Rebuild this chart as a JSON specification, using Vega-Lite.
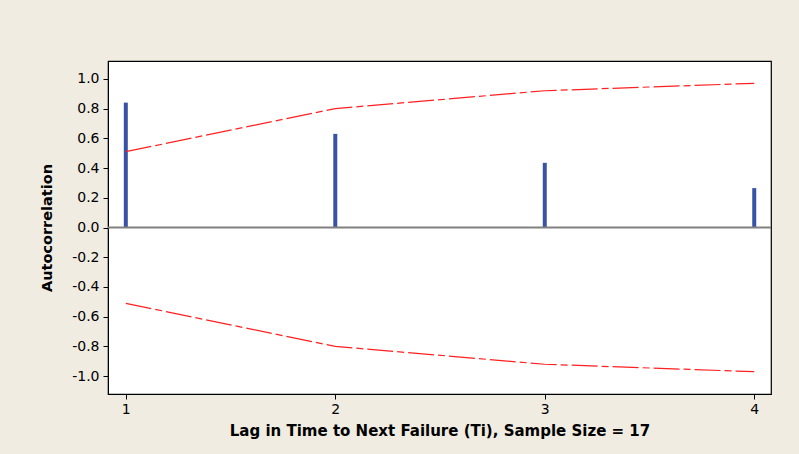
{
  "$schema": "https://vega.github.io/schema/vega-lite/v6.json",
  "autosize": "none",
  "width": 663,
  "height": 333,
  "padding": {"left": 108, "top": 61, "right": 28, "bottom": 60},
  "background": "#f0ece2",
  "config": {
    "view": {"stroke": "#000000", "strokeWidth": 1.2, "fill": "#ffffff"},
    "font": "DejaVu Sans",
    "axis": {"labelOverlap": false, "labelBound": false, "labelFlush": false}
  },
  "datasets": {
    "acf": [
      {"lag": 1, "acf": 0.84},
      {"lag": 2, "acf": 0.63},
      {"lag": 3, "acf": 0.435},
      {"lag": 4, "acf": 0.265}
    ],
    "limits": [
      {"lag": 1, "upper": 0.51, "lower": -0.51},
      {"lag": 2, "upper": 0.80, "lower": -0.80},
      {"lag": 3, "upper": 0.92, "lower": -0.92},
      {"lag": 4, "upper": 0.97, "lower": -0.97}
    ]
  },
  "layer": [
    {
      "data": {"name": "acf"},
      "mark": {"type": "bar", "color": "#3953a4", "size": 4},
      "encoding": {
        "x": {
          "field": "lag", "type": "quantitative",
          "scale": {"domain": [0.915, 4.08], "nice": false, "zero": false, "padding": 0},
          "axis": {
            "values": [1, 2, 3, 4], "tickCount": 10, "format": "d", "grid": false,
            "title": "Lag in Time to Next Failure (Ti), Sample Size = 17",
            "titleFont": "DejaVu Sans", "titleFontSize": 15, "titleFontWeight": "bold",
            "titleColor": "#000000", "titlePadding": 7,
            "labelFont": "DejaVu Sans", "labelFontSize": 14, "labelColor": "#000000",
            "labelPadding": 3,
            "domainColor": "#000000", "tickColor": "#000000", "tickSize": 5
          }
        },
        "y": {
          "field": "acf", "type": "quantitative",
          "scale": {"domain": [-1.12, 1.12], "nice": false},
          "axis": {
            "values": [-1, -0.8, -0.6, -0.4, -0.2, 0, 0.2, 0.4, 0.6, 0.8, 1],
            "tickCount": 20,
            "labelExpr": "replace(format(datum.value, '.1f'), '\u2212', '-')",
            "grid": false,
            "title": "Autocorrelation",
            "titleFont": "DejaVu Sans", "titleFontSize": 14.5, "titleFontWeight": "bold",
            "titleColor": "#000000", "titlePadding": 17,
            "labelFont": "DejaVu Sans", "labelFontSize": 14, "labelColor": "#000000",
            "labelPadding": 4,
            "domainColor": "#000000", "tickColor": "#000000", "tickSize": 5
          }
        }
      }
    },
    {
      "data": {"values": [{"zero": 0}]},
      "mark": {"type": "rule", "color": "#808080", "strokeWidth": 2},
      "encoding": {
        "y": {"field": "zero", "type": "quantitative"}
      }
    },
    {
      "data": {"name": "limits"},
      "mark": {"type": "line", "color": "#ff2020", "strokeWidth": 1.2, "strokeDash": [26, 4, 7, 4]},
      "encoding": {
        "x": {"field": "lag", "type": "quantitative"},
        "y": {"field": "upper", "type": "quantitative"}
      }
    },
    {
      "data": {"name": "limits"},
      "mark": {"type": "line", "color": "#ff2020", "strokeWidth": 1.2, "strokeDash": [26, 4, 7, 4]},
      "encoding": {
        "x": {"field": "lag", "type": "quantitative"},
        "y": {"field": "lower", "type": "quantitative"}
      }
    }
  ]
}
